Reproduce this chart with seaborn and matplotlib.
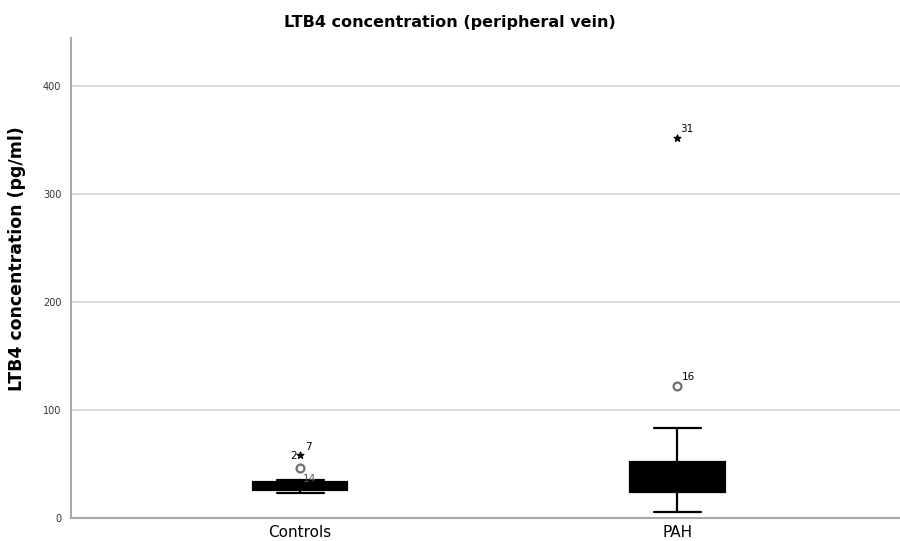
import seaborn as sns
import matplotlib.pyplot as plt
import pandas as pd

# estimated raw values (whisker range) per group
controls = [23, 24.5, 25.5, 26, 26.5, 28, 29, 30, 31, 32, 33.5, 34, 34.5, 35, 35.5]
pah = [5.5, 10, 15, 21, 25, 28, 30, 32, 35, 38, 44, 51, 53, 62, 72, 83.5]

# outliers
out_group = ["Controls", "Controls", "PAH", "PAH"]
out_value = [46.7, 58.5, 122.5, 352.5]
out_kind = ["circle", "star", "circle", "star"]

groups = ["Controls", "PAH"]
yticks = [0, 100, 200, 300, 400]

df = pd.DataFrame({
    "group": ["Controls"] * len(controls) + ["PAH"] * len(pah),
    "value": controls + pah,
})

sns.set_style("white")
plt.rcParams["font.family"] = ["DejaVu Sans"]

fig = plt.figure(figsize=(9, 5.41), dpi=100)
ax = fig.add_axes([0.079, 0.0425, 0.921, 0.8875])

for y in yticks[1:]:
    ax.axhline(y, color="#d4d4d4", lw=1.2, zorder=0)

sns.boxplot(data=df, x="group", y="value", order=groups, ax=ax,
            color="black", width=0.25, showfliers=False, whis=10,
            linecolor="black", linewidth=1.6,
            boxprops=dict(facecolor="black", edgecolor="black"))

pos = {g: i for i, g in enumerate(groups)}
for g, v, k in zip(out_group, out_value, out_kind):
    if k == "circle":
        ax.scatter(pos[g], v, s=32, marker="o", facecolor="white",
                   edgecolor="#707070", linewidth=1.6, zorder=5)
    else:
        ax.scatter(pos[g], v, s=24, marker="*", color="black", zorder=5)

lab = dict(fontsize=7.5, color="black", textcoords="offset pixels")
ax.annotate("31", (1, 352.5), xytext=(3, 4), ha="left", va="bottom", **lab)
ax.annotate("16", (1, 122.5), xytext=(4, 4), ha="left", va="bottom", **lab)
ax.annotate("7", (0, 58.5), xytext=(5, 3), ha="left", va="bottom", **lab)
ax.annotate("2", (0, 58.5), xytext=(-3, -1), ha="right", va="center", **lab)
ax.annotate("14", (0, 46.7), xytext=(3, -11), ha="left", va="center",
            fontsize=7.5, color="#555555", textcoords="offset pixels")

ax.set_xlim(-0.607, 1.59)
ax.set_ylim(0, 445)
ax.set_yticks(yticks)
ax.set_yticklabels([str(t) for t in yticks], fontsize=7, color="#333333")
ax.set_xticks([0, 1])
ax.set_xticklabels(groups, fontsize=11, color="black")
ax.tick_params(axis="y", length=4, color="#a0a0a0", width=1, pad=3)
ax.tick_params(axis="x", length=0, pad=5)

for s in ["top", "right"]:
    ax.spines[s].set_visible(False)
for s in ["left", "bottom"]:
    ax.spines[s].set_color("#a8a8a8")
    ax.spines[s].set_linewidth(1.5)

ax.set_xlabel("")
ax.set_ylabel("LTB4 concentration (pg/ml)", fontsize=12.5, fontweight="bold",
              color="black")
ax.yaxis.set_label_coords(-0.055, 0.54)
fig.text(0.5, 0.958, "LTB4 concentration (peripheral vein)", ha="center",
         va="center", fontsize=11.5, fontweight="bold", color="black")

fig.savefig("out.png", dpi=100)
